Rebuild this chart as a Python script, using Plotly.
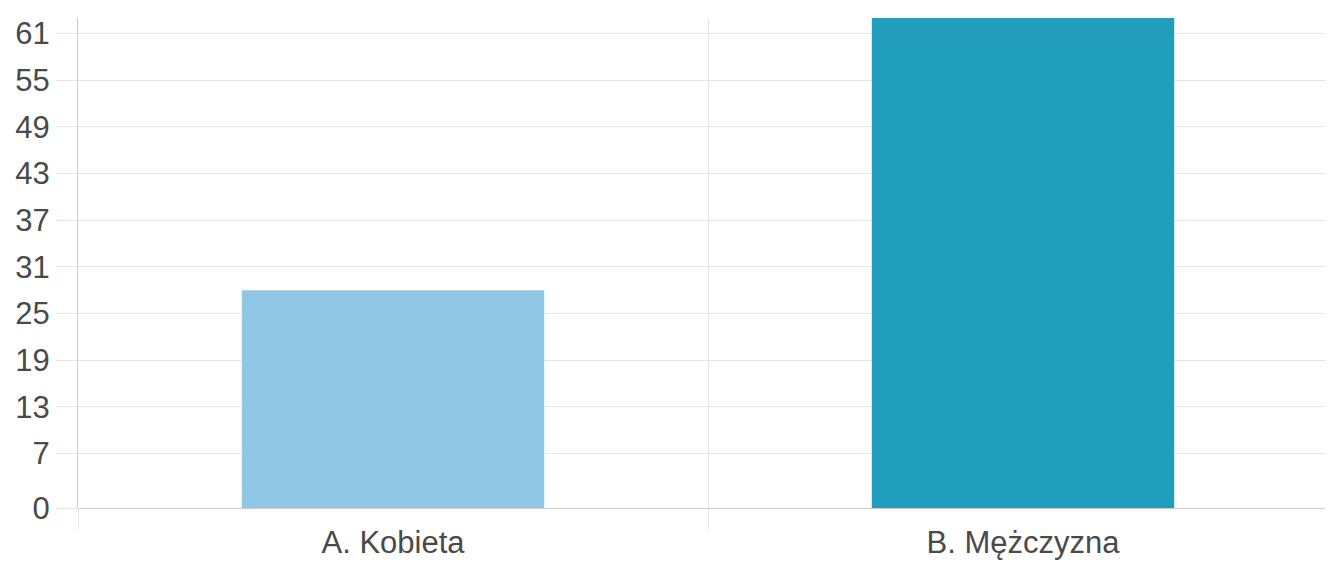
import plotly.graph_objects as go

categories = ["A. Kobieta", "B. Mężczyzna"]
values = [28, 63]
colors = ["#90c7e5", "#229ebd"]
y_ticks = [0, 7, 13, 19, 25, 31, 37, 43, 49, 55, 61]

fig = go.Figure()
fig.add_trace(go.Bar(
    x=categories, y=values, marker=dict(color=colors, line=dict(width=0)),
    width=0.48, hoverinfo="x+y",
))

grid = "#e5e5e5"
fs = 31
txt = "#4a4a4a"
fig.update_layout(
    width=1317, height=555,
    margin=dict(l=70, r=0, t=10, b=55),
    paper_bgcolor="white", plot_bgcolor="white",
    showlegend=False,
    font=dict(family="Liberation Sans, Arial, sans-serif", size=fs, color=txt),
)
fig.update_xaxes(
    type="category", range=[-0.5, -0.5 + 1247 / 630],
    tickson="boundaries", showgrid=True, gridcolor=grid, gridwidth=1,
    ticks="outside", ticklen=20, tickcolor=grid, tickwidth=1,
    showline=False, zeroline=False,
    tickfont=dict(size=fs, color=txt),
    ticklabelstandoff=13, automargin=False,
)
fig.update_yaxes(
    range=[0, 63], tickmode="array", tickvals=y_ticks, ticktext=[str(v) for v in y_ticks],
    showgrid=True, gridcolor=grid, gridwidth=1,
    ticks="outside", ticklen=21, tickcolor=grid, tickwidth=1,
    showline=True, linecolor="#cccccc", linewidth=1,
    zeroline=True, zerolinecolor="#cccccc", zerolinewidth=1,
    tickfont=dict(size=fs, color=txt), automargin=False,
)
fig.write_html("out.html")
